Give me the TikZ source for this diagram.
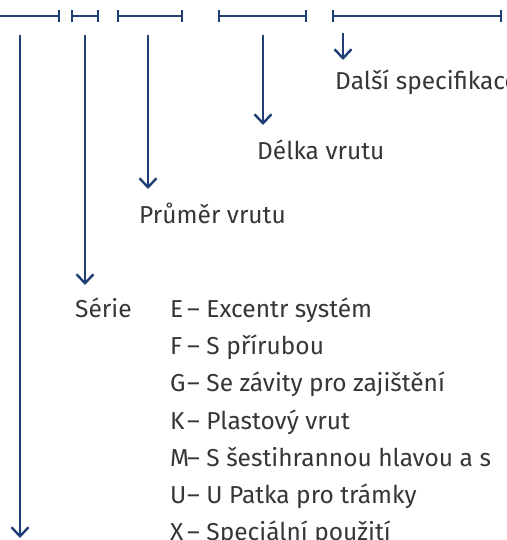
\documentclass[tikz,border=0pt]{standalone}
\usepackage{fontspec}
\setmainfont{Fira Sans}
\usetikzlibrary{arrows.meta}
\definecolor{lineblue}{HTML}{1F3E74}
\definecolor{txtgray}{HTML}{363636}
\tikzset{
  conn/.style={draw=lineblue, line width=2.4bp, -{Straight Barb[length=9bp,width=17bp,line width=2.4bp]}},
  dimbar/.style={draw=lineblue, line width=2.4bp, {Bar[width=12bp,line width=2.4bp]}-{Bar[width=12bp,line width=2.4bp]}},
  lbl/.style={anchor=base west, inner sep=0pt, text=txtgray, font=\fontsize{24.5bp}{28bp}\selectfont}
}
\begin{document}
\begin{tikzpicture}[x=1bp,y=-1bp]
\useasboundingbox (0,0) rectangle (507,540);
\clip (0,0) rectangle (507,540);
% top dimension bar
\coordinate (b0) at (-20,16);
\coordinate (b1) at (60,16);
\coordinate (b2) at (71,16);
\coordinate (b3) at (99,16);
\coordinate (b4) at (117,16);
\coordinate (b5) at (183,16);
\coordinate (b6) at (218,16);
\coordinate (b7) at (307,16);
\coordinate (b8) at (332,16);
\coordinate (b9) at (502,16);
\draw[draw=lineblue, line width=2.4bp, -{Bar[width=12bp,line width=2.4bp]}] (b0) -- (b1);
\draw[dimbar] (b2) -- (b3);
\draw[dimbar] (b4) -- (b5);
\draw[dimbar] (b6) -- (b7);
\draw[dimbar] (b8) -- (b9);
% labels
\node[lbl] (dalsi) at (335,90) {Další specifikace};
\node[lbl] (delka) at (257,160) {Délka vrutu};
\node[lbl] (prumer) at (139,223) {Průměr vrutu};
\node[lbl] (serie) at (75,317) {Série};
\node[lbl] (kE) at (170,317) {E};
\node[lbl] (tE) at (187,317) {– Excentr systém};
\node[lbl] (kF) at (170,354) {F};
\node[lbl] (tF) at (187,354) {– S přírubou};
\node[lbl] (kG) at (170,391) {G};
\node[lbl] (tG) at (187,391) {– Se závity pro zajištění};
\node[lbl] (kK) at (170,429) {K};
\node[lbl] (tK) at (187,429) {– Plastový vrut};
\node[lbl] (kM) at (170,466) {M};
\node[lbl] (tM) at (187,466) {– S šestihrannou hlavou a s};
\node[lbl] (kU) at (170,503) {U};
\node[lbl] (tU) at (187,503) {– U Patka pro trámky};
\node[lbl] (kX) at (170,540) {X};
\node[lbl] (tX) at (187,540) {– Speciální použití};
% arrows
\coordinate (s1) at (20,35);   \coordinate (e1) at (20,538);
\coordinate (s2) at (85,35);   \coordinate (e2) at (85,285);
\coordinate (s3) at (148,35);  \coordinate (e3) at (148,189);
\coordinate (s4) at (263,35);  \coordinate (e4) at (263,125);
\coordinate (s5) at (343,33);  \coordinate (e5) at (343,60);
\draw[conn] (s1) -- (e1);
\draw[conn] (s2) -- (e2);
\draw[conn] (s3) -- (e3);
\draw[conn] (s4) -- (e4);
\draw[conn] (s5) -- (e5);
\end{tikzpicture}
\end{document}
